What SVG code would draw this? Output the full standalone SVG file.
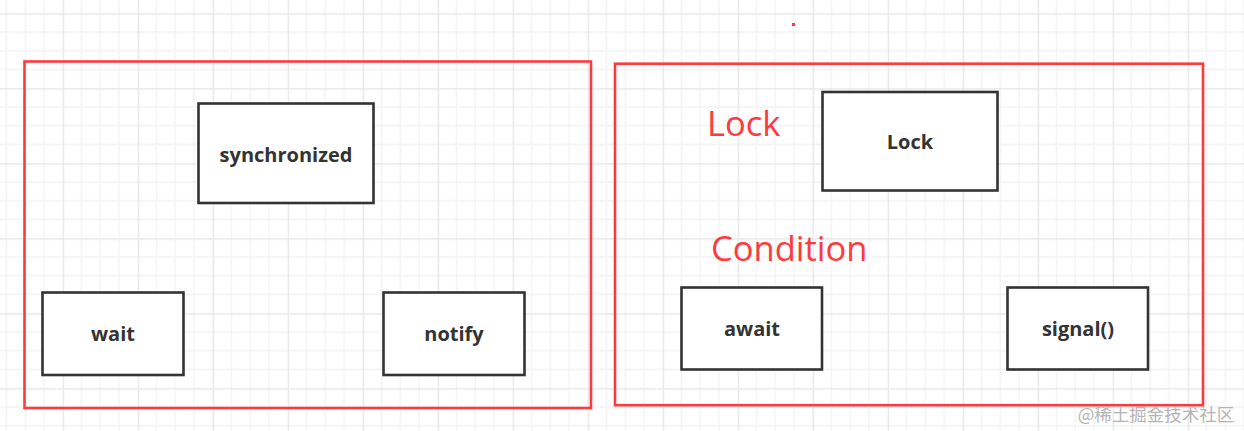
<svg xmlns="http://www.w3.org/2000/svg" width="1244" height="431" viewBox="0 0 1244 431">
<defs>
<pattern id="grid" x="62.7" y="13.3" width="75" height="75" patternUnits="userSpaceOnUse">
<path d="M18.75 0V75M37.5 0V75M56.25 0V75M0 18.75H75M0 37.5H75M0 56.25H75" stroke="#f2f2f2" stroke-width="1.3" fill="none"/>
<path d="M0.5 0V75M0 0.5H75" stroke="#e4e4e4" stroke-width="1.5" fill="none"/>
</pattern>
<style>
.frame{fill:none;stroke:#ff3a3d;stroke-width:2.6}
.node{fill:#fff;stroke:#333;stroke-width:2.6}
.lbl{font-family:"Open Sans","Liberation Sans",sans-serif;font-weight:bold;font-size:20px;fill:#333;text-anchor:middle;dominant-baseline:central}
.red{font-family:"Open Sans","Liberation Sans",sans-serif;font-size:34.5px;fill:#ff3a3d}
</style>
</defs>
<rect width="1244" height="431" fill="#fff"/>
<rect width="1244" height="431" fill="url(#grid)"/>
<rect x="792" y="23" width="3" height="3" fill="#ff3a3d"/>
<g id="group-left"><rect class="frame" x="24.5" y="61.5" width="566.5" height="346.5"/></g>
<g id="group-right"><rect class="frame" x="615" y="63.7" width="588" height="341.5"/></g>
<g id="connectors"></g>
<g id="synchronized"><rect class="node" x="198.5" y="103.5" width="175" height="99.5"/><text class="lbl" x="286" y="154">synchronized</text></g>
<g id="wait"><rect class="node" x="42.5" y="292.5" width="141" height="82.5"/><text class="lbl" x="113" y="333">wait</text></g>
<g id="notify"><rect class="node" x="383.5" y="292.5" width="141" height="82.5"/><text class="lbl" x="454" y="333">notify</text></g>
<g id="lock"><rect class="node" x="822.5" y="92" width="175" height="98.5"/><text class="lbl" x="910" y="141">Lock</text></g>
<g id="await"><rect class="node" x="681.5" y="287.5" width="140.5" height="82"/><text class="lbl" x="752" y="328">await</text></g>
<g id="signal"><rect class="node" x="1007.5" y="287.5" width="140.5" height="82"/><text class="lbl" x="1078" y="328">signal()</text></g>
<text class="red" x="707" y="136">Lock</text>
<text class="red" x="711" y="261">Condition</text>
<text x="1156" y="421" font-family="'Noto Sans CJK SC',sans-serif" font-size="17.5" fill="#b4b4b4" text-anchor="middle">@稀土掘金技术社区</text>
</svg>
